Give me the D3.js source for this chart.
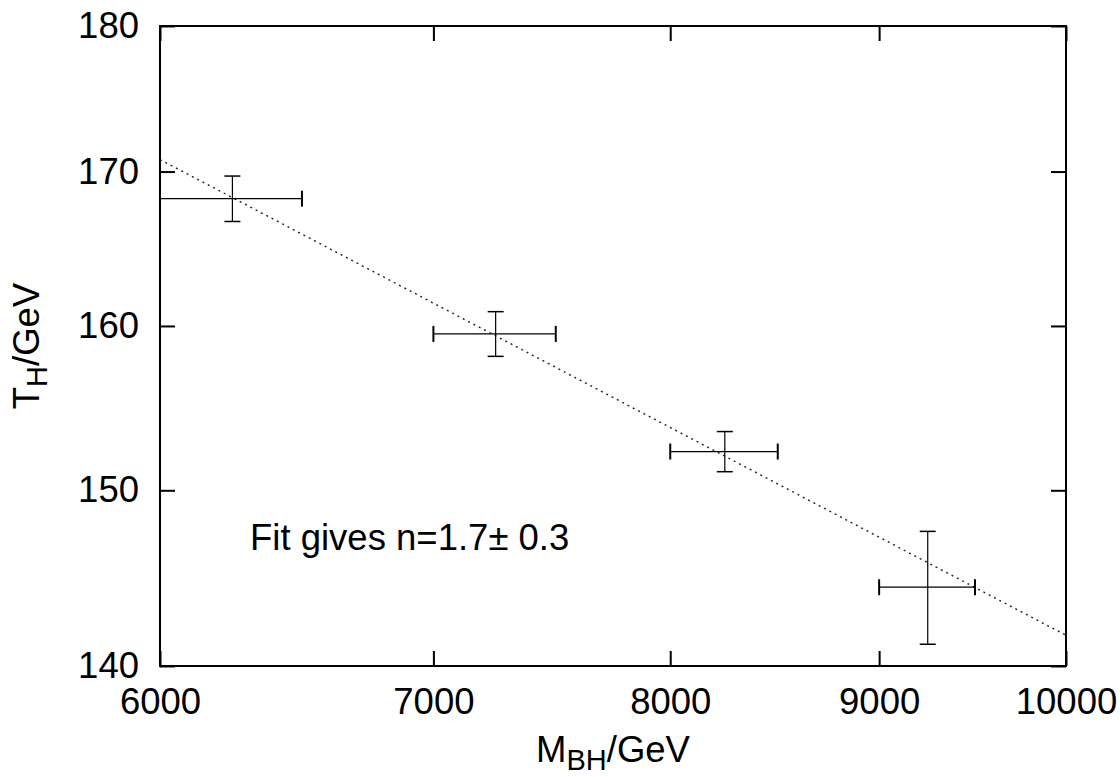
<!DOCTYPE html>
<html>
<head>
<meta charset="utf-8">
<script src="https://cdn.jsdelivr.net/npm/d3@7"></script>
<style>
  body { margin: 0; background: #fff; }
  svg text { font-family: "Liberation Sans", Arial, sans-serif; fill: #000; }
</style>
</head>
<body>
<svg id="chart" width="1120" height="777"></svg>
<script>
// black hole mass vs Hagedorn temperature
const massM = [6250, 7250, 8250, 9250];
const massErr = [250, 250, 250, 250];
const tempT = [168.2, 159.5, 152.3, 144.4];
const tempErr = [1.5, 1.4, 1.2, 3.2];

// fitted line end points
const fitM = [6000, 10000];
const fitT = [170.8, 141.7];

const xTicks = [6000, 7000, 8000, 9000, 10000];
const yTicks = [140, 150, 160, 170, 180];

const svg = d3.select("#chart");
const width = 1120;
const height = 777;
const margin = { top: 26, right: 54, bottom: 111, left: 160 };
const fontSize = 36.5;
const subSize = 29;

const x = d3
  .scaleLog()
  .domain([6000, 10000])
  .range([margin.left, width - margin.right]);

const y = d3
  .scaleLog()
  .domain([140, 180])
  .range([height - margin.bottom, margin.top]);

const plotH = height - margin.bottom - margin.top;
const plotW = width - margin.right - margin.left;

// axes with inward ticks
const axBottom = svg
  .append("g")
  .attr("transform", `translate(0,${height - margin.bottom})`)
  .call(d3.axisBottom(x).tickValues(xTicks).tickFormat(d3.format("d")).tickSize(-15).tickSizeOuter(0).tickPadding(22));

const axLeft = svg
  .append("g")
  .attr("transform", `translate(${margin.left},0)`)
  .call(d3.axisLeft(y).tickValues(yTicks).tickFormat(d3.format("d")).tickSize(-15).tickSizeOuter(0).tickPadding(21));

const axTop = svg
  .append("g")
  .attr("transform", `translate(0,${margin.top})`)
  .call(d3.axisTop(x).tickValues(xTicks).tickFormat("").tickSize(-15).tickSizeOuter(0));

const axRight = svg
  .append("g")
  .attr("transform", `translate(${width - margin.right},0)`)
  .call(d3.axisRight(y).tickValues(yTicks).tickFormat("").tickSize(-15).tickSizeOuter(0));

[axBottom, axLeft, axTop, axRight].forEach((g) => {
  g.select(".domain").remove();
  g.selectAll(".tick line").attr("stroke", "#000").attr("stroke-width", 2);
  g.selectAll(".tick text").style("font-size", fontSize + "px").attr("font-family", null);
});

// frame
svg
  .append("rect")
  .attr("x", margin.left)
  .attr("y", margin.top)
  .attr("width", plotW)
  .attr("height", plotH)
  .attr("fill", "none")
  .attr("stroke", "#000")
  .attr("stroke-width", 2);

// fit line (straight in log-log)
svg
  .append("path")
  .datum(fitM.map((m, i) => [m, fitT[i]]))
  .attr("d", d3.line().x((d) => x(d[0])).y((d) => y(d[1])))
  .attr("fill", "none")
  .attr("stroke", "#222")
  .attr("stroke-width", 1.4)
  .attr("stroke-dasharray", "2,4");

// error bars
const pts = massM.map((m, i) => ({ m, dm: massErr[i], t: tempT[i], dt: tempErr[i] }));
const capW = 8;
const eb = svg.append("g").attr("stroke", "#000");

pts.forEach((d) => {
  const cx = x(d.m);
  const cy = y(d.t);
  const x0 = x(d.m - d.dm);
  const x1 = x(d.m + d.dm);
  const y0 = y(d.t - d.dt);
  const y1 = y(d.t + d.dt);
  eb.append("line").attr("x1", x0).attr("x2", x1).attr("y1", cy).attr("y2", cy).attr("stroke-width", 1.2);
  eb.append("line").attr("x1", cx).attr("x2", cx).attr("y1", y0).attr("y2", y1).attr("stroke-width", 1.2);
  // caps
  [x0, x1].forEach((xx) => {
    if (xx > margin.left + 1) {
      eb.append("line").attr("x1", xx).attr("x2", xx).attr("y1", cy - capW).attr("y2", cy + capW).attr("stroke-width", 2);
    }
  });
  [y0, y1].forEach((yy) => {
    eb.append("line").attr("x1", cx - capW).attr("x2", cx + capW).attr("y1", yy).attr("y2", yy).attr("stroke-width", 1.5);
  });
});

// annotation
svg
  .append("text")
  .attr("x", 250)
  .attr("y", 550)
  .style("font-size", fontSize + "px")
  .text("Fit gives n=1.7\u00b1 0.3");

// axis titles
const xt = svg
  .append("text")
  .attr("x", margin.left + plotW / 2)
  .attr("y", 762)
  .attr("text-anchor", "middle")
  .style("font-size", fontSize + "px");
xt.append("tspan").text("M");
xt.append("tspan").attr("dy", 8).style("font-size", subSize + "px").text("BH");
xt.append("tspan").attr("dy", -8).text("/GeV");

const yt = svg
  .append("text")
  .attr("transform", `translate(39,${margin.top + plotH / 2}) rotate(-90)`)
  .attr("text-anchor", "middle")
  .style("font-size", fontSize + "px");
yt.append("tspan").text("T");
yt.append("tspan").attr("dy", 8).style("font-size", subSize + "px").text("H");
yt.append("tspan").attr("dy", -8).text("/GeV");
</script>
</body>
</html>
